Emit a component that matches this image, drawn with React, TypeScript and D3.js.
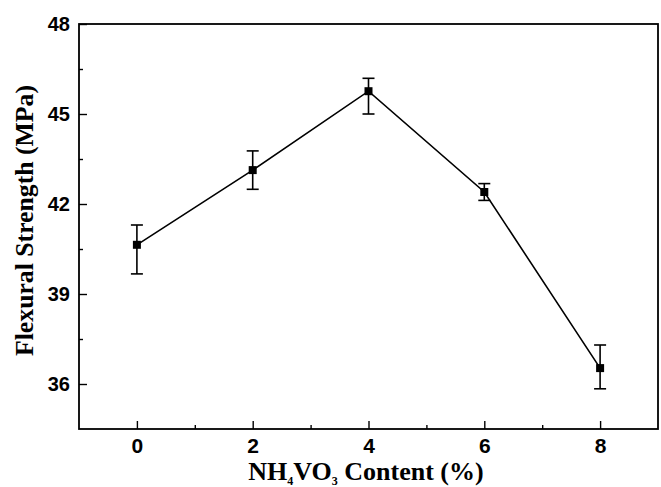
import React, { useRef, useEffect } from "react";
import { select, scaleLinear, axisBottom, axisLeft, line } from "d3";

// data
const contents = [0, 2, 4, 6, 8];
const strength = [40.64, 43.13, 45.76, 42.4, 36.53];
const errUpper = [41.3, 43.77, 46.19, 42.68, 37.3];
const errLower = [39.67, 42.49, 45.0, 42.12, 35.84];
const xTicks = [0, 2, 4, 6, 8];
const xMinorTicks = [1, 3, 5, 7];
const yTicks = [36, 39, 42, 45, 48];
const yMinorTicks = [37.5, 40.5, 43.5, 46.5];

const width = 661;
const height = 487;
const margin = { top: 24, right: 3, bottom: 58, left: 79 };

const App: React.FC = () => {
  const svgRef = useRef<SVGSVGElement>(null);

  useEffect(() => {
    const svg = select(svgRef.current);
    svg.selectAll("*").remove();

    const innerWidth = width - margin.left - margin.right;
    const innerHeight = height - margin.top - margin.bottom;

    const x = scaleLinear().domain([-1, 9]).range([0, innerWidth]);
    const y = scaleLinear().domain([34.5, 48]).range([innerHeight, 0]);

    const g = svg
      .append("g")
      .attr("transform", `translate(${margin.left},${margin.top})`);

    // frame
    g.append("rect")
      .attr("width", innerWidth)
      .attr("height", innerHeight)
      .attr("fill", "none")
      .attr("stroke", "#000")
      .attr("stroke-width", 1.8);

    // minor ticks (inward)
    g.append("g")
      .attr("transform", `translate(0,${innerHeight})`)
      .call(axisBottom(x).tickValues(xMinorTicks).tickSize(-4).tickFormat(() => ""))
      .call((a) => a.select(".domain").remove())
      .selectAll("line")
      .attr("stroke-width", 1.4);
    g.append("g")
      .call(axisLeft(y).tickValues(yMinorTicks).tickSize(-4).tickFormat(() => ""))
      .call((a) => a.select(".domain").remove())
      .selectAll("line")
      .attr("stroke-width", 1.4);

    // major ticks
    const xAxisG = g
      .append("g")
      .attr("transform", `translate(0,${innerHeight})`)
      .call(axisBottom(x).tickValues(xTicks).tickSize(-8).tickPadding(9));
    const yAxisG = g
      .append("g")
      .call(axisLeft(y).tickValues(yTicks).tickSize(-8).tickPadding(9));

    [xAxisG, yAxisG].forEach((axisG) => {
      axisG.select(".domain").remove();
      axisG.selectAll("line").attr("stroke", "#000").attr("stroke-width", 1.4);
      axisG
        .selectAll("text")
        .attr("fill", "#000")
        .attr("font-family", "'Liberation Sans', Arial, sans-serif")
        .attr("font-weight", "bold")
        .attr("font-size", 20);
    });
    xAxisG.selectAll("text").attr("font-size", 21);

    // error bars
    const capW = 6;
    const eb = g.append("g").attr("stroke", "#000").attr("stroke-width", 1.6);
    contents.forEach((c, i) => {
      const cx = x(c);
      eb.append("line")
        .attr("x1", cx)
        .attr("x2", cx)
        .attr("y1", y(errUpper[i]))
        .attr("y2", y(errLower[i]));
      [errUpper[i], errLower[i]].forEach((v) => {
        eb.append("line")
          .attr("x1", cx - capW)
          .attr("x2", cx + capW)
          .attr("y1", y(v))
          .attr("y2", y(v));
      });
    });

    // line
    const pts = contents.map((c, i) => [c, strength[i]] as [number, number]);
    const lineGen = line<[number, number]>()
      .x((d) => x(d[0]))
      .y((d) => y(d[1]));
    g.append("path")
      .datum(pts)
      .attr("fill", "none")
      .attr("stroke", "#000")
      .attr("stroke-width", 1.6)
      .attr("d", lineGen);

    // markers
    const s = 8;
    g.selectAll("rect.pt")
      .data(pts)
      .join("rect")
      .attr("class", "pt")
      .attr("x", (d) => x(d[0]) - s / 2)
      .attr("y", (d) => y(d[1]) - s / 2)
      .attr("width", s)
      .attr("height", s)
      .attr("fill", "#000");

    // axis titles
    const titleFont = "'Liberation Serif', 'Times New Roman', serif";
    const xt = svg
      .append("text")
      .attr("x", 366)
      .attr("y", 480)
      .attr("text-anchor", "middle")
      .attr("font-family", titleFont)
      .attr("font-weight", "bold")
      .attr("font-size", 26)
      .attr("fill", "#000");
    xt.append("tspan").text("NH");
    xt.append("tspan").attr("font-size", 12).attr("dy", 5).text("4");
    xt.append("tspan").attr("dy", -5).text("VO");
    xt.append("tspan").attr("font-size", 12).attr("dy", 5).text("3");
    xt.append("tspan").attr("dy", -5).text(" Content (%)");

    svg
      .append("text")
      .attr("transform", `translate(33,220.5) rotate(-90)`)
      .attr("text-anchor", "middle")
      .attr("font-family", titleFont)
      .attr("font-weight", "bold")
      .attr("font-size", 25)
      .attr("textLength", 271)
      .attr("lengthAdjust", "spacingAndGlyphs")
      .attr("fill", "#000")
      .text("Flexural Strength (MPa)");
  }, []);

  return (
    <svg
      ref={svgRef}
      width={width}
      height={height}
      viewBox={`0 0 ${width} ${height}`}
      style={{ position: "absolute", left: 0, top: 0, background: "#fff" }}
    />
  );
};

export default App;
